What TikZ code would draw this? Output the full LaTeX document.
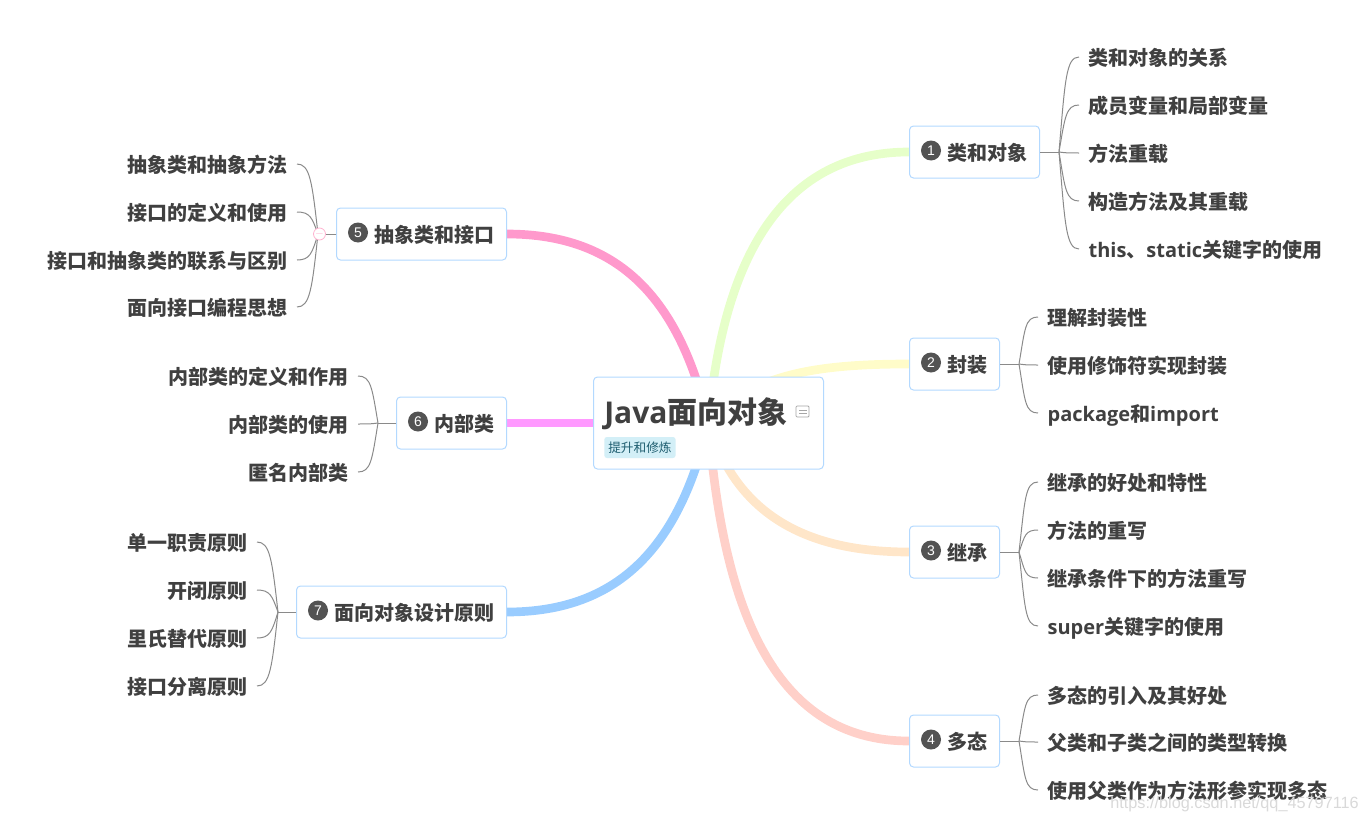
\documentclass[tikz,border=0pt]{standalone}
\usepackage{fontspec}
\setmainfont{Noto Sans CJK SC}
\newfontfamily\latinfont{Open Sans}
\newfontfamily\badgefont{Liberation Sans}
\newcommand{\lat}[1]{{\latinfont\bfseries #1}}
\usetikzlibrary{positioning, calc, backgrounds}
\definecolor{inktext}{HTML}{404040}
\definecolor{boxline}{HTML}{B3D9FF}
\definecolor{twigline}{HTML}{8A8A8A}
\definecolor{tagfill}{HTML}{D3EFF7}
\definecolor{tagtext}{HTML}{1F5E70}
\definecolor{foldline}{HTML}{FFB3D0}

\begin{document}
\begin{tikzpicture}[x=0.75pt,y=-0.75pt,
 main_node/.style={draw=boxline,line width=0.75pt,fill=white,rounded corners=3pt,minimum height=39pt,inner xsep=9pt,inner ysep=0pt,text=inktext,font=\fontsize{15}{15}\selectfont\bfseries,text height=12.5pt,text depth=0.5pt,execute at begin node={\hspace*{19.5pt}}},
 root_node/.style={draw=boxline,line width=0.75pt,fill=white,rounded corners=3pt,minimum width=172.5pt,minimum height=69pt,inner sep=0pt},
 leaf_node/.style={inner xsep=7pt,inner ysep=0pt,text=inktext,font=\fontsize{15}{15}\selectfont\bfseries,text height=12.5pt,text depth=0.5pt},
 badge_node/.style={circle,fill=inktext!90,text=white,minimum size=15pt,inner sep=0pt,font=\badgefont\fontsize{10.5}{10.5}\selectfont},
 twig/.style={draw=twigline,line width=0.75pt},
 branch/.style={line width=6.5pt}]

\useasboundingbox (0,0) rectangle (1367,821);

\node[root_node,anchor=west] (root) at (593,423) {};
\node[anchor=west,inner sep=0pt,text=inktext,font=\fontsize{22.5}{23}\selectfont\bfseries] (title) at (604,414) {\lat{Java}面向对象};
\node[anchor=west,fill=tagfill,rounded corners=2pt,inner xsep=3pt,inner ysep=0pt,minimum height=15.75pt,text=tagtext,font=\fontsize{9.5}{10}\selectfont] (tag) at (604,447.5) {提升和修炼};

% flag icon
\draw[gray!70,line width=0.6pt,rounded corners=0.8pt] (796,406) rectangle (809,417);
\draw[gray!70,line width=0.6pt] (799,410) -- (807,410) (799,413.5) -- (807,413.5);

\node[main_node,anchor=west] (1) at (909,152) {类和对象};
\node[main_node,anchor=west] (2) at (909,364) {封装};
\node[main_node,anchor=west] (3) at (909,552) {继承};
\node[main_node,anchor=west] (4) at (909,741) {多态};
\node[main_node,anchor=east] (5) at (507,234) {抽象类和接口};
\node[main_node,anchor=east] (6) at (507,423) {内部类};
\node[main_node,anchor=east] (7) at (507,612) {面向对象设计原则};

\foreach \i in {1,...,7}{\node[badge_node] (b\i) at ($(\i.west)+(22,-1.5)$) {\i};}

\node[leaf_node,anchor=west] (11) at (1079,57) {类和对象的关系};
\node[leaf_node,anchor=west] (12) at (1079,105) {成员变量和局部变量};
\node[leaf_node,anchor=west] (13) at (1079,153) {方法重载};
\node[leaf_node,anchor=west] (14) at (1079,201) {构造方法及其重载};
\node[leaf_node,anchor=west] (15) at (1079,249) {\lat{this}、\lat{static}关键字的使用};

\node[leaf_node,anchor=west] (21) at (1038,317) {理解封装性};
\node[leaf_node,anchor=west] (22) at (1038,365) {使用修饰符实现封装};
\node[leaf_node,anchor=west] (23) at (1038,413) {\lat{package}和\lat{import}};

\node[leaf_node,anchor=west] (31) at (1038,482) {继承的好处和特性};
\node[leaf_node,anchor=west] (32) at (1038,530) {方法的重写};
\node[leaf_node,anchor=west] (33) at (1038,578) {继承条件下的方法重写};
\node[leaf_node,anchor=west] (34) at (1038,626) {\lat{super}关键字的使用};

\node[leaf_node,anchor=west] (41) at (1038,695) {多态的引入及其好处};
\node[leaf_node,anchor=west] (42) at (1038,742) {父类和子类之间的类型转换};
\node[leaf_node,anchor=west] (43) at (1038,790) {使用父类作为方法形参实现多态};

\node[leaf_node,anchor=east] (51) at (297,164) {抽象类和抽象方法};
\node[leaf_node,anchor=east] (52) at (297,212) {接口的定义和使用};
\node[leaf_node,anchor=east] (53) at (297,260) {接口和抽象类的联系与区别};
\node[leaf_node,anchor=east] (54) at (297,307) {面向接口编程思想};

\node[leaf_node,anchor=east] (61) at (358,376) {内部类的定义和作用};
\node[leaf_node,anchor=east] (62) at (358,424) {内部类的使用};
\node[leaf_node,anchor=east] (63) at (358,472) {匿名内部类};

\node[leaf_node,anchor=east] (71) at (257,542) {单一职责原则};
\node[leaf_node,anchor=east] (72) at (257,590) {开闭原则};
\node[leaf_node,anchor=east] (73) at (257,638) {里氏替代原则};
\node[leaf_node,anchor=east] (74) at (257,686) {接口分离原则};

\foreach \i in {1,2,3,4}{\coordinate (t\i) at ($(\i.east)+(19,0)$);}
\foreach \i in {5,6,7}{\coordinate (t\i) at ($(\i.west)+(-18,0)$);}

\foreach \i in {1,2,3,4}{\draw[twig] (\i.east) -- (t\i);}
\foreach \i in {5,6,7}{\draw[twig] (\i.west) -- (t\i);}

\foreach \i/\j in {1/11,1/12,1/13,1/14,1/15,2/21,2/22,2/23,3/31,3/32,3/33,3/34,4/41,4/42,4/43}{
  \draw[twig] (t\i) .. controls ($(t\i)!0.75!(t\i|-\j.west)+(6,0)$) and ($(\j.west)+(-13,0)$) .. (\j.west);}
\foreach \i/\j in {5/51,5/52,5/53,5/54,6/61,6/62,6/63,7/71,7/72,7/73,7/74}{
  \draw[twig] (t\i) .. controls ($(t\i)!0.75!(t\i|-\j.east)+(-6,0)$) and ($(\j.east)+(13,0)$) .. (\j.east);}

\node[circle,draw=foldline,fill=white,line width=0.6pt,minimum size=9pt,inner sep=0pt,text=foldline,font=\fontsize{8}{8}\selectfont] (fold) at ($(t5)+(1.5,0)$) {$-$};

\begin{scope}[on background layer]
\draw[branch,draw={rgb,255:red,230;green,255;blue,201}] (root.center) .. controls (722,270) and (775,152) .. (1.west);
\draw[branch,draw={rgb,255:red,255;green,252;blue,201}] (root.center) .. controls (750,376) and (810,364) .. (2.west);
\draw[branch,draw={rgb,255:red,255;green,230;blue,201}] (root.center) .. controls (735,510) and (800,552) .. (3.west);
\draw[branch,draw={rgb,255:red,255;green,208;blue,201}] (root.center) .. controls (722,600) and (770,741) .. (4.west);
\draw[branch,draw={rgb,255:red,255;green,153;blue,204}] (root.center) .. controls (680,300) and (620,234) .. (5.east);
\draw[branch,draw={rgb,255:red,255;green,153;blue,255}] (root.center) -- (6.east);
\draw[branch,draw={rgb,255:red,153;green,204;blue,255}] (root.center) .. controls (680,545) and (620,612) .. (7.east);
\end{scope}

\node[anchor=east,inner sep=0pt,text=gray!30,font=\badgefont\fontsize{12.2}{13}\selectfont] (mark) at (1359,804) {https://blog.csdn.net/qq\_45797116};

\end{tikzpicture}
\end{document}
